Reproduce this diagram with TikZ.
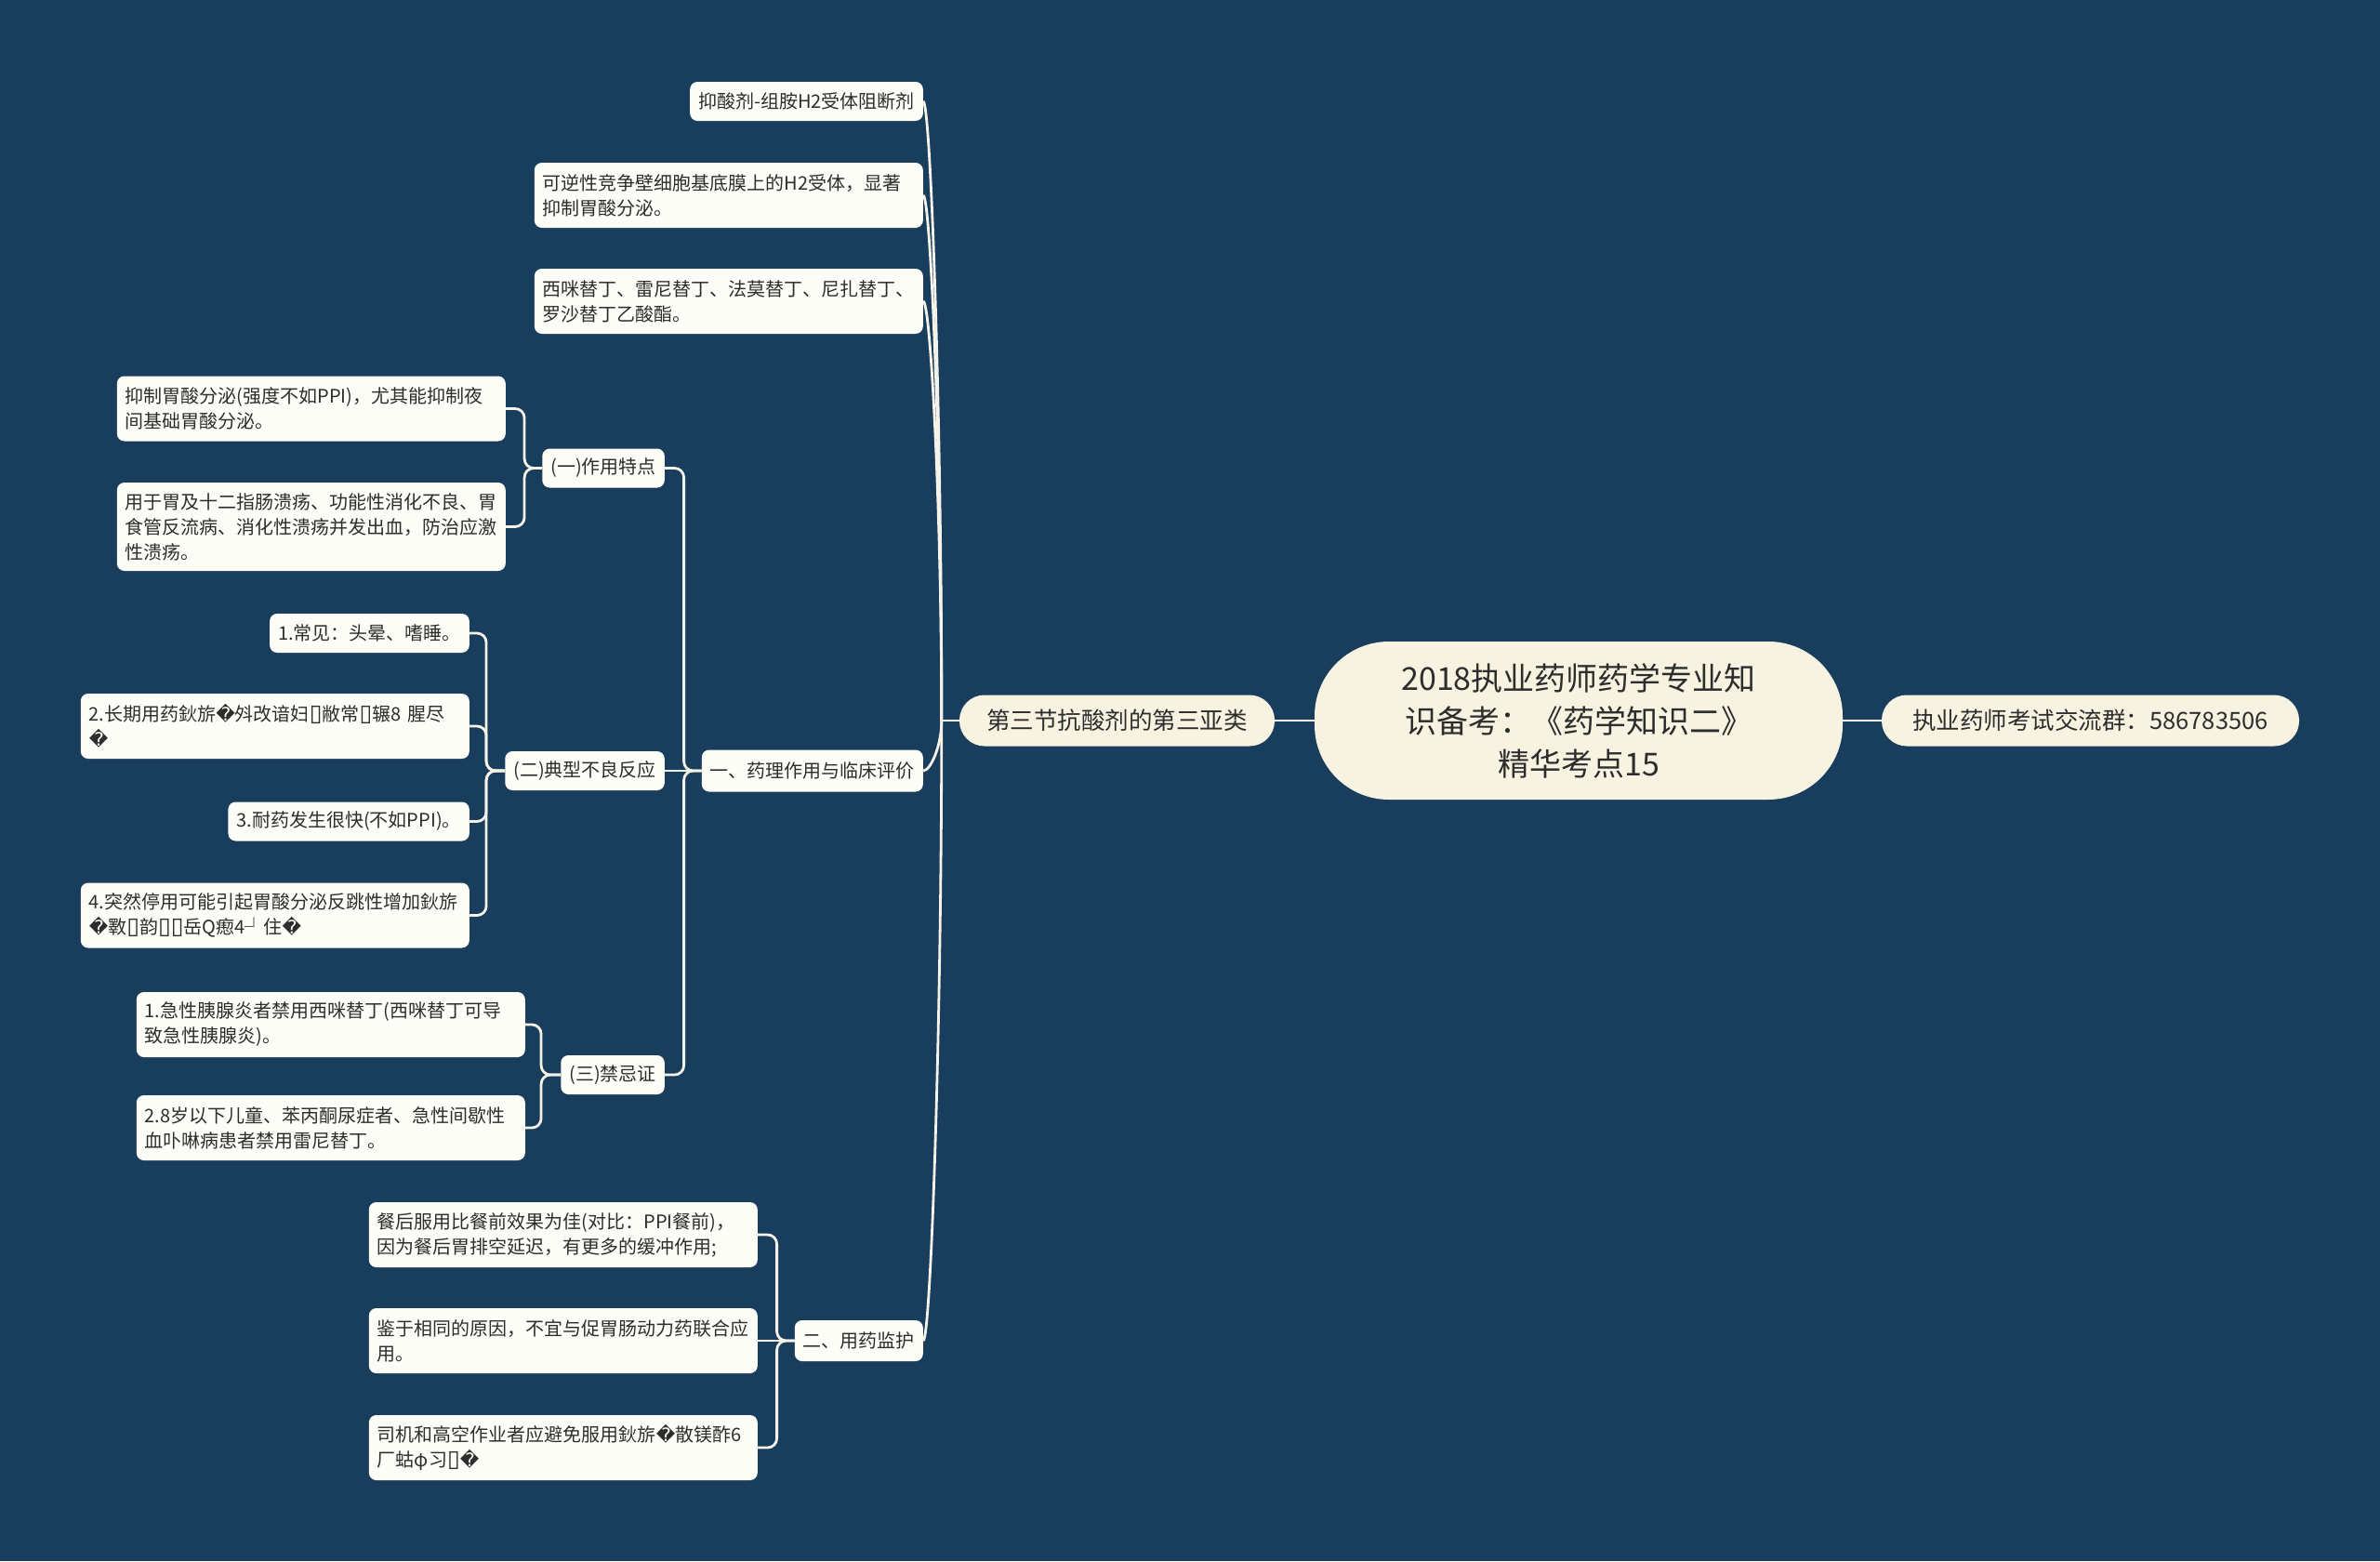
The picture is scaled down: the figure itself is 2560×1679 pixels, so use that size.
\documentclass[tikz,border=0pt]{standalone}
\usepackage{fontspec}
\setmainfont{Noto Sans CJK SC}
\newfontfamily\dvfont{DejaVu Sans}
\usetikzlibrary{calc}
\definecolor{bgc}{RGB}{25,61,93}
\definecolor{leaffill}{RGB}{253,253,248}
\definecolor{rootfill}{RGB}{247,243,224}
\definecolor{txt}{RGB}{45,45,45}
\definecolor{linec}{RGB}{245,242,232}
\newcommand\rchar{{\dvfont\char"FFFD}}
\newcommand\nbox{{\dvfont\fontsize{25}{27}\selectfont\char"25AF}}
\newcommand\leaffont{\fontsize{20}{27}\selectfont}
\begin{document}
\begin{tikzpicture}[x=1pt,y=-1pt,
  leaf/.style={fill=leaffill, rounded corners=8, inner xsep=9, inner ysep=0, font=\leaffont, text=txt, align=left, anchor=east},
  wide/.style={text width=400},
  one/.style={minimum height=42},
  two/.style={minimum height=70},
  three/.style={minimum height=95},
  mainn/.style={fill=rootfill, rounded corners=27, minimum height=55, font=\fontsize{25.5}{30}\selectfont, text=txt, inner xsep=0},
  rootn/.style={fill=rootfill, rounded corners=80, minimum width=568, minimum height=170, font=\fontsize{34}{46}\selectfont, text=txt, align=center},
  conn/.style={draw=linec, line width=2.8},
  elbow/.style={conn, rounded corners=10}
]
\fill[bgc] (0,0) rectangle (2560,1679);
\useasboundingbox (0,0) rectangle (2560,1679);

% central
\node[rootn] (root) at (1698,775) {2018执业药师药学专业知\\识备考：《药学知识二》\\精华考点15};
\node[mainn, minimum width=449] (rn) at (2248.5,775) {执业药师考试交流群：586783506};
\node[mainn, minimum width=339] (lm) at (1201.5,775) {第三节抗酸剂的第三亚类};
\draw[conn] (root.east) -- (rn.west);
\draw[conn] (root.west) -- (lm.east);

% first level children
\node[leaf, one] (s1) at (993,109) {抑酸剂-组胺H2受体阻断剂};
\node[leaf, two, wide] (s2) at (993,210) {可逆性竞争壁细胞基底膜上的H2受体，显著\\抑制胃酸分泌。};
\node[leaf, two, wide] (s3) at (993,324) {西咪替丁、雷尼替丁、法莫替丁、尼扎替丁、\\罗沙替丁乙酸酯。};
\node[leaf, minimum height=45] (s4) at (993,829) {一、药理作用与临床评价};
\node[leaf, minimum height=44] (s5) at (993,1442) {二、用药监护};

\coordinate (hub) at ($(lm.west)+(-19,0)$);
\draw[conn] (lm.west) -- (hub);
\foreach \n in {s1,s2,s3,s4,s5}{
  \draw[conn] (\n.east) .. controls ($(\n.east)+(8,0)$) and ($(hub)!0.5!(hub |- \n.east)$) .. (hub);
}

% (一)
\node[leaf, one] (a) at (715,503.5) {(一)作用特点};
\node[leaf, two, wide] (a1) at (544,439.5) {抑制胃酸分泌(强度不如PPI)，尤其能抑制夜\\间基础胃酸分泌。};
\node[leaf, three, wide] (a2) at (544,566.5) {用于胃及十二指肠溃疡、功能性消化不良、胃\\食管反流病、消化性溃疡并发出血，防治应激\\性溃疡。};

% (二)
\node[leaf, one] (b) at (715,829) {(二)典型不良反应};
\node[leaf, one] (b1) at (505,681) {1.常见：头晕、嗜睡。};
\node[leaf, two, wide] (b2) at (505,781) {2.长期用药鈥旂\rchar 斘改谙妇\nbox 敝常\nbox 辗8 腥尽\\\rchar};
\node[leaf, one] (b3) at (505,883.5) {3.耐药发生很快(不如PPI)。};
\node[leaf, two, wide] (b4) at (505,984.5) {4.突然停用可能引起胃酸分泌反跳性增加鈥旂\\\rchar 斁\nbox 韵\nbox\nbox 岳Q瘛4┘住\rchar};

% (三)
\node[leaf, one] (c) at (715,1156) {(三)禁忌证};
\node[leaf, two, wide] (c1) at (565,1102) {1.急性胰腺炎者禁用西咪替丁(西咪替丁可导\\致急性胰腺炎)。};
\node[leaf, two, wide] (c2) at (565,1213) {2.8岁以下儿童、苯丙酮尿症者、急性间歇性\\血卟啉病患者禁用雷尼替丁。};

% 二
\node[leaf, two, wide] (d1) at (815,1328) {餐后服用比餐前效果为佳(对比：PPI餐前)，\\因为餐后胃排空延迟，有更多的缓冲作用;};
\node[leaf, two, wide] (d2) at (815,1442) {鉴于相同的原因，不宜与促胃肠动力药联合应\\用。};
\node[leaf, two, wide] (d3) at (815,1557) {司机和高空作业者应避免服用鈥旂\rchar 散镁酢6\\厂蛄φ习\nbox\rchar};

% elbows
\coordinate (js4) at ($(s4.west)+(-19,0)$);
\draw[elbow] (s4.west) -- (js4) -- (js4 |- a.east) -- (a.east);
\draw[conn] (s4.west) -- (b.east);
\draw[elbow] (s4.west) -- (js4) -- (js4 |- c.east) -- (c.east);

\coordinate (ja) at ($(a.west)+(-19,0)$);
\foreach \n in {a1,a2}{\draw[elbow] (a.west) -- (ja) -- (ja |- \n.east) -- (\n.east);}

\coordinate (jb) at ($(b.west)+(-20,0)$);
\foreach \n in {b1,b2,b3,b4}{\draw[elbow] (b.west) -- (jb) -- (jb |- \n.east) -- (\n.east);}

\coordinate (jc) at ($(c.west)+(-21,0)$);
\foreach \n in {c1,c2}{\draw[elbow] (c.west) -- (jc) -- (jc |- \n.east) -- (\n.east);}

\coordinate (jd) at ($(s5.west)+(-19,0)$);
\foreach \n in {d1,d3}{\draw[elbow] (s5.west) -- (jd) -- (jd |- \n.east) -- (\n.east);}
\draw[conn] (s5.west) -- (d2.east);
\end{tikzpicture}
\end{document}
